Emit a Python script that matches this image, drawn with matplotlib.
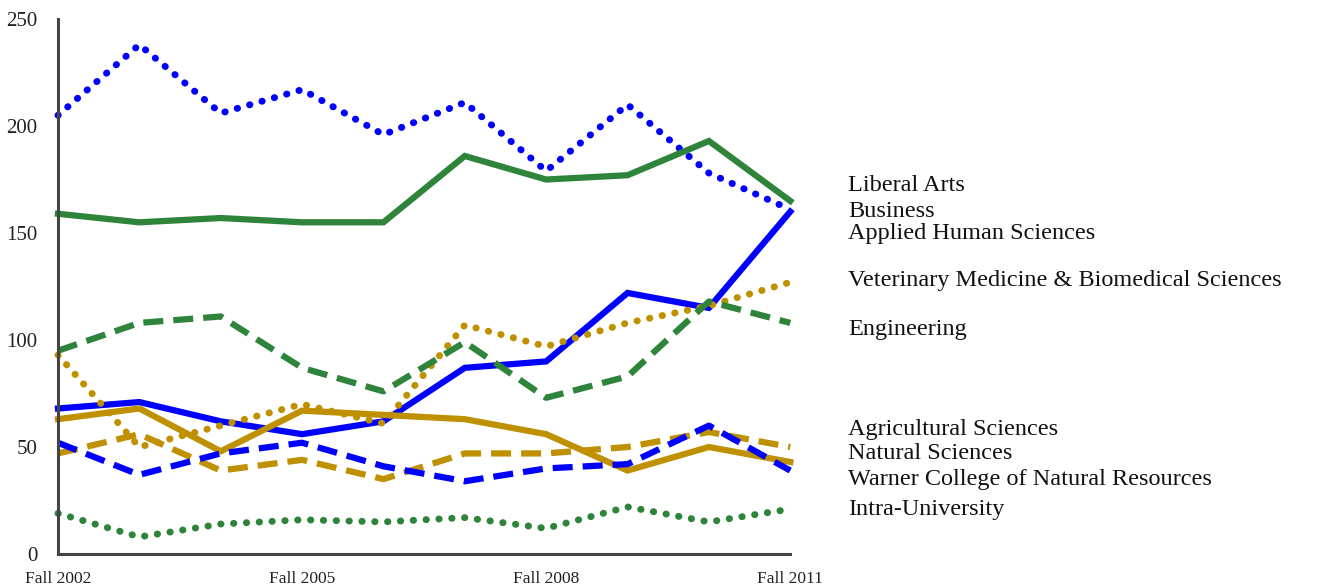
import numpy as np
import matplotlib
matplotlib.use("Agg")
import matplotlib.pyplot as plt

plt.rcParams['font.family'] = ['Liberation Serif', 'DejaVu Serif']

years = ["Fall 2002", "Fall 2003", "Fall 2004", "Fall 2005", "Fall 2006",
         "Fall 2007", "Fall 2008", "Fall 2009", "Fall 2010", "Fall 2011"]
shown_ticks = [0, 3, 6, 9]

business = [205, 238, 206, 217, 196, 211, 179, 210, 178, 161]
liberal_arts = [159, 155, 157, 155, 155, 186, 175, 177, 193, 165]
applied_human = [68, 71, 62, 56, 62, 87, 90, 122, 115, 160]
natural_sci = [63, 68, 48, 67, 65, 63, 56, 39, 50, 43]
engineering = [95, 108, 111, 87, 76, 99, 73, 83, 118, 108]
vet_med = [93, 50, 60, 70, 61, 107, 97, 108, 116, 127]
agricultural = [47, 56, 39, 44, 35, 47, 47, 50, 57, 50]
warner = [52, 37, 47, 52, 41, 34, 40, 42, 60, 39]
intra = [19, 8, 14, 16, 15, 17, 12, 22, 15, 21]

blue = "#0000FF"
green = "#2E843A"
gold = "#BF9000"
dotted = (0, (0.05, 1.8))
dashed = (0, (3.2, 1.6))

series = [
    (business, blue, dotted),
    (liberal_arts, green, "-"),
    (applied_human, blue, "-"),
    (vet_med, gold, dotted),
    (engineering, green, dashed),
    (agricultural, gold, dashed),
    (natural_sci, gold, "-"),
    (warner, blue, dashed),
    (intra, green, dotted),
]

labels = ["Liberal Arts", "Business", "Applied Human Sciences",
          "Veterinary Medicine & Biomedical Sciences", "Engineering",
          "Agricultural Sciences", "Natural Sciences",
          "Warner College of Natural Resources", "Intra-University"]
label_y = [172, 160, 150, 128, 105, 58, 47, 35, 21]

fig = plt.figure(figsize=(13.18, 5.87), dpi=100)
ax = fig.add_axes([0.044, 0.0562, 0.5556, 0.9114])

x = np.arange(len(years))
for vals, col, ls in series:
    is_dot = ls == dotted
    ax.plot(x, vals, color=col, linestyle=ls, linewidth=5 if is_dot else 4.5,
            dash_capstyle="round" if is_dot else "butt",
            solid_joinstyle="miter", clip_on=False)

for lab, ly in zip(labels, label_y):
    ax.text(9.71, ly, lab, fontsize=17.5, va="center", ha="left", color="#111111",
            clip_on=False)

ax.set_xlim(0, 9)
ax.set_ylim(0, 250)
ax.set_yticks([0, 50, 100, 150, 200, 250])
ax.set_xticks(shown_ticks)
ax.set_xticklabels([years[i] for i in shown_ticks])
ax.tick_params(axis="both", length=0, colors="#222222")
ax.tick_params(axis="x", pad=12, labelsize=12.5)
ax.tick_params(axis="y", pad=15, labelsize=15)
for side in ["top", "right"]:
    ax.spines[side].set_visible(False)
for side in ["left", "bottom"]:
    ax.spines[side].set_color("#444444")
    ax.spines[side].set_linewidth(2.2)

fig.savefig("out.png", dpi=100)
